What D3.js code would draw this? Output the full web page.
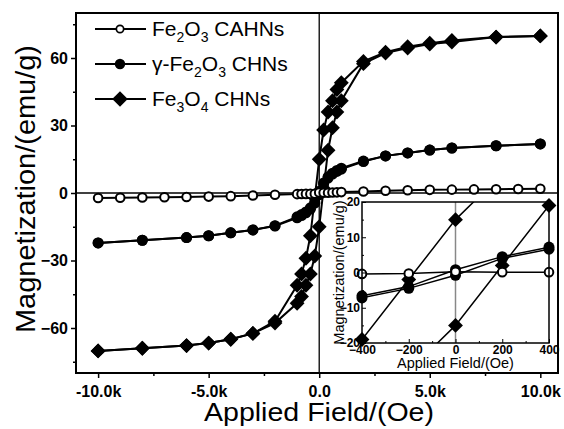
<!DOCTYPE html>
<html>
<head>
<meta charset="utf-8">
<script src="https://cdn.jsdelivr.net/npm/d3@7"></script>
<style>
body { margin: 0; background: #fff; }
text { font-family: "Liberation Sans", Arial, sans-serif; fill: #000; }
</style>
</head>
<body>
<svg id="chart"></svg>
<script>
// Fe2O3 CAHNs: one sweep, no visible hysteresis
const caField = [-10000, -9000, -8000, -7000, -6000, -5000, -4000, -3000, -2000, -1000, -800, -600, -400, -200, 0,
    200, 400, 600, 800, 1000, 2000, 3000, 4000, 5000, 6000, 7000, 8000, 9000, 10000];
const caMag = [-2.2, -2.1, -2.0, -1.9, -1.8, -1.6, -1.4, -1.1, -0.8, -0.5, -0.45, -0.4, -0.4, -0.3, 0.2,
    0.1, 0.1, 0.2, 0.3, 0.4, 0.7, 1.0, 1.2, 1.4, 1.5, 1.6, 1.7, 1.8, 1.9];

// field sweeps for the two CHN samples
const sweepDown = [10000, 8000, 6000, 5000, 4000, 3000, 2000, 1000, 800, 600, 400, 200, 0,
    -200, -400, -600, -800, -1000, -2000, -3000, -4000, -5000, -6000, -8000, -10000];
const sweepUp = [-10000, -8000, -6000, -5000, -4000, -3000, -2000, -1000, -800, -600, -400, -200, 0,
    200, 400, 600, 800, 1000, 2000, 3000, 4000, 5000, 6000, 8000, 10000];

const gammaDown = [21.8, 21.0, 20.0, 19.1, 17.8, 16.5, 14.2, 11.0, 10.0, 8.8, 7.2, 4.5, 0.8,
    -4.0, -6.6, -8.4, -9.6, -10.6, -14.5, -16.4, -17.7, -19.0, -19.8, -21.0, -22.2];
const gammaUp = [-22.2, -21.0, -19.8, -19.0, -17.7, -16.4, -14.7, -11.0, -10.0, -8.8, -7.2, -4.5, -0.8,
    4.0, 6.6, 8.4, 9.6, 10.6, 14.0, 16.5, 17.8, 19.1, 20.0, 21.0, 21.8];

const fe3o4Down = [69.8, 69.3, 67.8, 66.6, 65.0, 62.6, 58.5, 49.0, 46.0, 41.0, 36.0, 28.0, 15.0,
    -2.0, -19.0, -29.0, -36.0, -41.0, -57.0, -62.4, -65.0, -66.7, -67.8, -69.0, -70.2];
const fe3o4Up = [-70.2, -69.0, -67.8, -66.7, -65.0, -62.4, -57.8, -49.0, -46.0, -41.0, -36.0, -28.0, -15.0,
    2.0, 19.0, 29.0, 36.0, 41.0, 57.5, 62.2, 64.4, 66.2, 67.1, 69.3, 69.8];

const legendLabels = ['Fe2O3 CAHNs', 'γ-Fe2O3 CHNs', 'Fe3O4 CHNs'];

const mainXTicks = [-10000, -5000, 0, 5000, 10000];
const mainXMinor = [-7500, -2500, 2500, 7500];
const mainYTicks = [-60, -30, 0, 30, 60];
const mainYMinor = [-75, -45, -15, 15, 45, 75];
const insetXTicks = [-400, -200, 0, 200, 400];
const insetXMinor = [-300, -100, 100, 300];
const insetYTicks = [-20, -10, 0, 10, 20];
const insetYMinor = [-15, -5, 5, 15];

const width = 564;
const height = 429;

const svg = d3.select('#chart')
    .attr('width', width)
    .attr('height', height);

const zip = (xs, ys) => xs.map((d, i) => ({h: d, m: ys[i]}));

const series = [
    {marker: 'diamond', branches: [zip(sweepDown, fe3o4Down), zip(sweepUp, fe3o4Up)]},
    {marker: 'dot', branches: [zip(sweepDown, gammaDown), zip(sweepUp, gammaUp)]},
    {marker: 'open', branches: [zip(caField, caMag)]}
];

const drawMarker = (g, type, cx, cy, scale = 1) => {
    if (type === 'open') {
        g.append('circle').attr('cx', cx).attr('cy', cy).attr('r', 4.3 * scale)
            .attr('fill', '#fff').attr('stroke', '#000').attr('stroke-width', 2 * Math.min(scale, 1));
    } else if (type === 'dot') {
        g.append('circle').attr('cx', cx).attr('cy', cy).attr('r', 5.5 * scale).attr('fill', '#000');
    } else {
        g.append('path')
            .attr('d', d3.symbol(d3.symbolSquare, 110 * scale * scale)())
            .attr('transform', `translate(${cx},${cy}) rotate(45)`)
            .attr('fill', '#000');
    }
};

const drawPlot = (g, x, y, lineWidth, clipId) => {
    const line = d3.line().x(d => x(d.h)).y(d => y(d.m));
    const [x0, x1] = x.domain();
    const [y0, y1] = y.domain();
    const lines = g.append('g');
    if (clipId) lines.attr('clip-path', `url(#${clipId})`);
    series.forEach(s => {
        s.branches.forEach(b => {
            lines.append('path')
                .datum(b)
                .attr('d', line)
                .attr('fill', 'none')
                .attr('stroke', '#000')
                .attr('stroke-width', lineWidth);
        });
    });
    series.forEach(s => {
        const mk = g.append('g');
        s.branches.forEach(b => {
            b.filter(d => d.h >= x0 && d.h <= x1 && d.m >= y0 && d.m <= y1)
                .forEach(d => drawMarker(mk, s.marker, x(d.h), y(d.m)));
        });
    });
};

// ---------- main plot ----------
const main = {left: 76, right: 558, top: 13, bottom: 373};
const x = d3.scaleLinear().domain([-11000, 10800]).range([main.left, main.right]);
const y = d3.scaleLinear().domain([-80, 80]).range([main.bottom, main.top]);

svg.append('line')
    .attr('x1', main.left).attr('x2', main.right)
    .attr('y1', y(0)).attr('y2', y(0))
    .attr('stroke', '#000').attr('stroke-width', 1.3);
svg.append('line')
    .attr('x1', x(0)).attr('x2', x(0))
    .attr('y1', main.top).attr('y2', main.bottom)
    .attr('stroke', '#000').attr('stroke-width', 1.3);

drawPlot(svg.append('g'), x, y, 2, null);

const fmtK = d => d === 0 ? '0.0' : (d / 1000).toFixed(1) + 'k';

const xAxis = svg.append('g')
    .attr('transform', `translate(0,${main.bottom})`)
    .call(d3.axisBottom(x).tickValues(mainXTicks).tickFormat(fmtK).tickSize(5).tickSizeOuter(0).tickPadding(8));
svg.append('g')
    .attr('transform', `translate(0,${main.bottom})`)
    .call(d3.axisBottom(x).tickValues(mainXMinor).tickFormat('').tickSize(3).tickSizeOuter(0));
const yAxis = svg.append('g')
    .attr('transform', `translate(${main.left},0)`)
    .call(d3.axisLeft(y).tickValues(mainYTicks).tickSize(5).tickSizeOuter(0).tickPadding(3));
svg.append('g')
    .attr('transform', `translate(${main.left},0)`)
    .call(d3.axisLeft(y).tickValues(mainYMinor).tickFormat('').tickSize(3).tickSizeOuter(0));

svg.selectAll('.domain').remove();
svg.selectAll('.tick line').attr('stroke', '#000').attr('stroke-width', 1.5);
[xAxis, yAxis].forEach(a => a.selectAll('text')
    .attr('font-size', 16).attr('font-weight', 'bold')
    .attr('font-family', '"Liberation Sans", Arial, sans-serif'));

svg.append('rect')
    .attr('x', main.left).attr('y', main.top)
    .attr('width', main.right - main.left).attr('height', main.bottom - main.top)
    .attr('fill', 'none').attr('stroke', '#000').attr('stroke-width', 2);

svg.append('text')
    .attr('x', 319)
    .attr('y', 421)
    .attr('text-anchor', 'middle')
    .attr('font-size', 26)
    .attr('textLength', 230)
    .attr('lengthAdjust', 'spacingAndGlyphs')
    .text('Applied Field/(Oe)');

svg.append('text')
    .attr('transform', 'translate(35,189) rotate(-90)')
    .attr('text-anchor', 'middle')
    .attr('font-size', 27)
    .attr('textLength', 288)
    .attr('lengthAdjust', 'spacingAndGlyphs')
    .text('Magnetization/(emu/g)');

// legend
const legendMarkers = ['open', 'dot', 'diamond'];
const legendScale = [0.85, 0.95, 1.05];
const legend = svg.append('g');
legendLabels.forEach((label, i) => {
    const cy = 29 + i * 35;
    legend.append('line')
        .attr('x1', 95).attr('x2', 146).attr('y1', cy).attr('y2', cy)
        .attr('stroke', '#000').attr('stroke-width', 2);
    drawMarker(legend, legendMarkers[i], 120, cy, legendScale[i]);
    const t = legend.append('text')
        .attr('x', 152).attr('y', cy + 7)
        .attr('font-size', 21);
    let shift = 0;
    label.split(/(\d)/).filter(s => s !== '').forEach(part => {
        const sub = /^\d$/.test(part);
        const target = sub ? 6 : 0;
        t.append('tspan')
            .attr('dy', target - shift)
            .attr('font-size', sub ? 14 : 21)
            .text(part);
        shift = target;
    });
});

// ---------- inset ----------
const inset = {left: 362, right: 549, top: 202, bottom: 343};
const ix = d3.scaleLinear().domain([-400, 400]).range([inset.left, inset.right]);
const iy = d3.scaleLinear().domain([-20, 20]).range([inset.bottom, inset.top]);

svg.append('defs').append('clipPath').attr('id', 'inset-clip')
    .append('rect')
    .attr('x', inset.left).attr('y', inset.top)
    .attr('width', inset.right - inset.left).attr('height', inset.bottom - inset.top);

svg.append('rect')
    .attr('x', inset.left).attr('y', inset.top)
    .attr('width', inset.right - inset.left).attr('height', inset.bottom - inset.top)
    .attr('fill', '#fff');

svg.append('line')
    .attr('x1', ix(0)).attr('x2', ix(0))
    .attr('y1', inset.top).attr('y2', inset.bottom)
    .attr('stroke', '#888').attr('stroke-width', 1.5);

const ig = svg.append('g');
drawPlot(ig, ix, iy, 1.5, 'inset-clip');

const ixAxis = svg.append('g')
    .attr('transform', `translate(0,${inset.bottom})`)
    .call(d3.axisBottom(ix).tickValues(insetXTicks).tickSize(-4).tickSizeOuter(0).tickPadding(2));
svg.append('g')
    .attr('transform', `translate(0,${inset.bottom})`)
    .call(d3.axisBottom(ix).tickValues(insetXMinor).tickFormat('').tickSize(-2).tickSizeOuter(0));
const iyAxis = svg.append('g')
    .attr('transform', `translate(${inset.left},0)`)
    .call(d3.axisLeft(iy).tickValues(insetYTicks).tickSize(-4).tickSizeOuter(0).tickPadding(2));
svg.append('g')
    .attr('transform', `translate(${inset.left},0)`)
    .call(d3.axisLeft(iy).tickValues(insetYMinor).tickFormat('').tickSize(-2).tickSizeOuter(0));

svg.selectAll('.domain').remove();
svg.selectAll('.tick line').attr('stroke', '#000');
[ixAxis, iyAxis].forEach(a => a.selectAll('text')
    .attr('font-size', 12).attr('font-weight', 'bold')
    .attr('font-family', '"Liberation Sans", Arial, sans-serif'));

svg.append('rect')
    .attr('x', inset.left).attr('y', inset.top)
    .attr('width', inset.right - inset.left).attr('height', inset.bottom - inset.top)
    .attr('fill', 'none').attr('stroke', '#000').attr('stroke-width', 1.5);

svg.append('text')
    .attr('x', (inset.left + inset.right) / 2)
    .attr('y', 368)
    .attr('text-anchor', 'middle')
    .attr('font-size', 14.5)
    .text('Applied Field/(Oe)');

svg.append('text')
    .attr('transform', `translate(344,${(inset.top + inset.bottom) / 2}) rotate(-90)`)
    .attr('text-anchor', 'middle')
    .attr('font-size', 14.5)
    .text('Magnetization/(emu/g)');
</script>
</body>
</html>
